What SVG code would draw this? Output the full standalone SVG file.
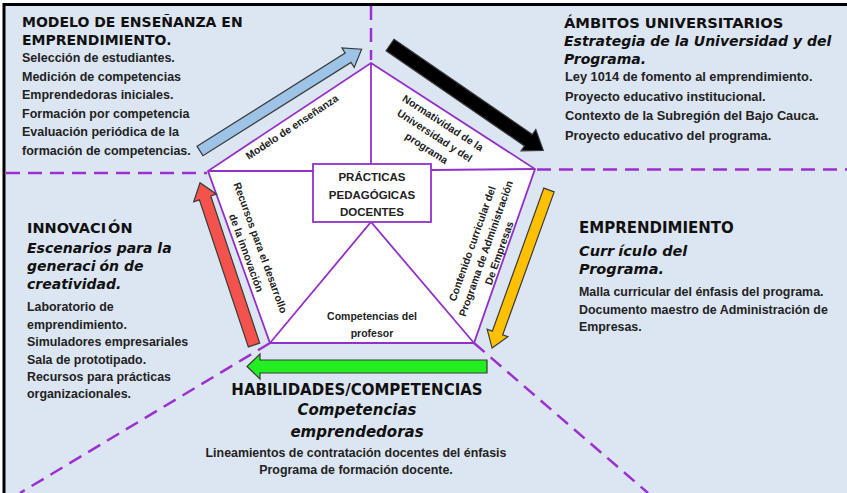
<svg xmlns="http://www.w3.org/2000/svg" width="847" height="493" viewBox="0 0 847 493">
<style>
.h{font-family:"DejaVu Sans",sans-serif;font-weight:bold;fill:#111}
.i{font-family:"DejaVu Sans",sans-serif;font-weight:bold;font-style:italic;fill:#111}
.b{font-family:"Liberation Sans",Arial,sans-serif;font-weight:bold;fill:#222}
.p{font-family:"Liberation Sans",Arial,sans-serif;font-weight:bold;fill:#222;font-size:10.5px;text-anchor:middle}
.dash{stroke:#9b30d0;stroke-width:2.5;stroke-dasharray:14 8;fill:none}
.pl{stroke:#9430c8;stroke-width:1.8;fill:none}
.ar{stroke:#3a3a3a;stroke-width:1.2}
</style>
<rect x="0" y="0" width="847" height="493" fill="#ffffff"/>
<rect x="4" y="4" width="843" height="489" fill="#dce6f2"/>
<path d="M4,493 V4.5 H847" fill="none" stroke="#000" stroke-width="3"/>

<g id="dashed-dividers">
<line class="dash" x1="371" y1="6" x2="371" y2="60"/>
<line class="dash" x1="6" y1="173" x2="207" y2="173"/>
<line class="dash" x1="537" y1="169.5" x2="847" y2="169.5"/>
<line class="dash" x1="270" y1="343" x2="20" y2="493"/>
<line class="dash" x1="474" y1="343" x2="648" y2="493"/>
</g>

<g id="pentagon">
<polygon points="371,63 535,169 474,343 270,343 208,171" fill="#ffffff" stroke="#9430c8" stroke-width="1.8"/>
<line class="pl" x1="371" y1="63" x2="371" y2="164"/>
<line class="pl" x1="208" y1="171" x2="313" y2="171"/>
<line class="pl" x1="431" y1="170" x2="535" y2="169"/>
<polyline class="pl" points="270,343 371,222 474,343"/>
</g>

<g id="center">
<rect x="313" y="164" width="118" height="58" fill="#ffffff" stroke="#9430c8" stroke-width="1.8"/>
<text class="b" font-size="11.5" text-anchor="middle"><tspan x="372" y="181">PRÁCTICAS</tspan><tspan x="372" y="198.5">PEDAGÓGICAS</tspan><tspan x="372" y="216">DOCENTES</tspan></text>
</g>

<g id="seg-modelo"><text class="p" transform="translate(294,130) rotate(-33.5)" x="0" y="0">Modelo de enseñanza</text></g>
<g id="seg-normatividad" transform="translate(441,126) rotate(33)">
<text class="p"><tspan x="0" y="0">Normatividad de la</tspan><tspan x="0" y="15">Universidad y del</tspan><tspan x="0" y="30">programa</tspan></text>
</g>
<g id="seg-recursos" transform="translate(257,249) rotate(70)">
<text class="p"><tspan x="0" y="0">Recursos para el desarrollo</tspan><tspan x="0" y="15">de la innovación</tspan></text>
</g>
<g id="seg-contenido" transform="translate(489.3,249.7) rotate(-70.5)">
<text class="p"><tspan x="0" y="-14.5">Contenido curricular del</tspan><tspan x="0" y="0">Programa de Administración</tspan><tspan x="0" y="14">De Empresas</tspan></text>
</g>
<g id="seg-competencias">
<text class="p"><tspan x="372" y="320">Competencias del</tspan><tspan x="372" y="336.5">profesor</tspan></text>
</g>

<g id="connectors">
<path class="ar" fill="#9dc3e6" transform="translate(200,151) rotate(-32.2)" d="M0,-5.5 H175 V-11.5 L191,0 L175,11.5 V5.5 H0 Z"/>
<path class="ar" fill="#000000" transform="translate(390,45) rotate(34.5)" d="M0,-7 H168 V-13 L186,0 L168,13 V7 H0 Z"/>
<path class="ar" fill="#ffc000" transform="translate(549,190) rotate(109.8)" d="M0,-5.5 H152 V-11 L168,0 L152,11 V5.5 H0 Z"/>
<path class="ar" fill="#22ee22" transform="translate(487,366.5) rotate(180)" d="M0,-6.5 H227 V-12.5 L240,0 L227,12.5 V6.5 H0 Z"/>
<path class="ar" fill="#f4524d" transform="translate(254,345) rotate(-108.4)" d="M0,-6 H155 V-12 L171,0 L155,12 V6 H0 Z"/>
</g>

<g id="modelo-ensenanza">
<text class="h" font-size="14" x="22" y="27">MODELO DE ENSEÑANZA EN</text>
<text class="h" font-size="14" x="22" y="45">EMPRENDIMIENTO.</text>
<text class="b" font-size="12.5"><tspan x="22" y="62">Selección de estudiantes.</tspan><tspan x="22" y="80.5">Medición de competencias</tspan><tspan x="22" y="99">Emprendedoras iniciales.</tspan><tspan x="22" y="117.5">Formación por competencia</tspan><tspan x="22" y="136">Evaluación periódica de la</tspan><tspan x="22" y="154.5">formación de competencias.</tspan></text>
</g>

<g id="ambitos">
<text class="h" font-size="14.7" x="564" y="28">ÁMBITOS UNIVERSITARIOS</text>
<text class="i" font-size="14"><tspan x="564" y="46">Estrategia de la Universidad y del</tspan><tspan x="564" y="64">Programa.</tspan></text>
<text class="b" font-size="12.8"><tspan x="565" y="81">Ley 1014 de fomento al emprendimiento.</tspan><tspan x="565" y="100.5">Proyecto educativo institucional.</tspan><tspan x="565" y="120">Contexto de la Subregión del Bajo Cauca.</tspan><tspan x="565" y="139.5">Proyecto educativo del programa.</tspan></text>
</g>

<g id="emprendimiento">
<text class="h" font-size="15" x="579" y="233">EMPRENDIMIENTO</text>
<text class="i" font-size="14.5"><tspan x="579" y="256">Curr</tspan><tspan dx="4">ículo del</tspan><tspan x="579" y="274">Programa.</tspan></text>
<text class="b" font-size="12.4"><tspan x="579" y="296">Malla curricular del énfasis del programa.</tspan><tspan x="579" y="314">Documento maestro de Administración de</tspan><tspan x="579" y="331">Empresas.</tspan></text>
</g>

<g id="innovacion">
<text class="h" font-size="14.5" x="27" y="233">INNOVACI<tspan dx="2">ÓN</tspan></text>
<text class="i" font-size="14"><tspan x="27" y="252.5">Escenarios para la</tspan><tspan x="27" y="270.5">generaci</tspan><tspan dx="4">ón de</tspan><tspan x="27" y="288.5">creatividad.</tspan></text>
<text class="b" font-size="12.4"><tspan x="27" y="311">Laboratorio de</tspan><tspan x="27" y="328.5">emprendimiento.</tspan><tspan x="27" y="346">Simuladores empresariales</tspan><tspan x="27" y="363.5">Sala de prototipado.</tspan><tspan x="27" y="381">Recursos para prácticas</tspan><tspan x="27" y="398">organizacionales.</tspan></text>
</g>

<g id="habilidades">
<text class="h" font-size="15" x="357" y="395" text-anchor="middle">HABILIDADES/COMPETENCIAS</text>
<text class="i" font-size="15" text-anchor="middle"><tspan x="357" y="415">Competencias</tspan><tspan x="357" y="437">emprendedoras</tspan></text>
<text class="b" font-size="12.4" text-anchor="middle"><tspan x="356" y="457">Lineamientos de contratación docentes del énfasis</tspan><tspan x="356" y="474">Programa de formación docente.</tspan></text>
</g>
</svg>
